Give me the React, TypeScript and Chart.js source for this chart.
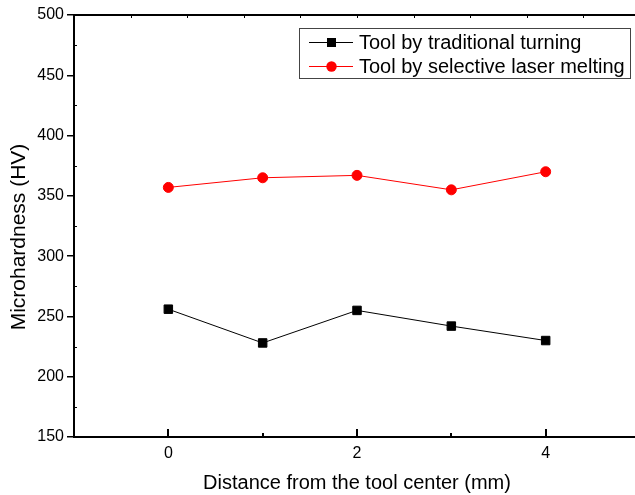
import React, { useEffect, useRef } from 'react';
import { Chart, registerables } from 'chart.js';

Chart.register(...registerables);

// ---- data ----
const distances = [0, 1, 2, 3, 4];
const traditionalTurning = [256, 228, 255, 242, 230];
const laserMelting = [357, 365, 367, 355, 370];
const seriesNames = ['Tool by traditional turning', 'Tool by selective laser melting'];
const xLabelValues = [0, 2, 4];
const xMinorValues = [1, 3];
const yMinorValues = [175, 225, 275, 325, 375, 425, 475];
const xTitle = 'Distance from the tool center (mm)';
const yTitle = 'Microhardness (HV)';

const FONT = '"Liberation Sans", Arial, sans-serif';

export default function App() {
  const ref = useRef<HTMLCanvasElement | null>(null);

  useEffect(() => {
    if (!ref.current) return;
    document.body.style.margin = '0';
    document.body.style.overflow = 'hidden';

    const decor = {
      id: 'decor',
      afterDraw(chart: any) {
        const ctx = chart.ctx as CanvasRenderingContext2D;
        const ca = chart.chartArea;
        const xs = chart.scales.x;
        const ys = chart.scales.y;
        ctx.save();
        ctx.strokeStyle = '#000';
        ctx.lineWidth = 2;
        // top axis line
        ctx.beginPath();
        ctx.moveTo(ca.left - 1, ca.top);
        ctx.lineTo(ca.right, ca.top);
        ctx.stroke();
        // top small ticks (10 divisions)
        ctx.lineWidth = 1;
        for (let k = 1; k < 10; k++) {
          const px = Math.round(xs.getPixelForValue(xs.min + (k * (xs.max - xs.min)) / 10)) + 0.5;
          ctx.beginPath();
          ctx.moveTo(px, ca.top);
          ctx.lineTo(px, ca.top + 3);
          ctx.stroke();
        }
        // x inward ticks
        ctx.lineWidth = 2;
        xLabelValues.forEach((v) => {
          const px = Math.round(xs.getPixelForValue(v));
          ctx.beginPath();
          ctx.moveTo(px, ca.bottom);
          ctx.lineTo(px, ca.bottom - 8);
          ctx.stroke();
        });
        xMinorValues.forEach((v) => {
          const px = Math.round(xs.getPixelForValue(v));
          ctx.beginPath();
          ctx.moveTo(px, ca.bottom);
          ctx.lineTo(px, ca.bottom - 4);
          ctx.stroke();
        });
        // y inward minor ticks
        ctx.lineWidth = 1;
        yMinorValues.forEach((v) => {
          const py = Math.round(ys.getPixelForValue(v)) + 0.5;
          ctx.beginPath();
          ctx.moveTo(ca.left, py);
          ctx.lineTo(ca.left + 3, py);
          ctx.stroke();
        });

        // titles
        ctx.fillStyle = '#000';
        ctx.font = `20px ${FONT}`;
        ctx.textAlign = 'center';
        ctx.textBaseline = 'middle';
        ctx.fillText(xTitle, (ca.left + ca.right) / 2, 483);
        ctx.save();
        ctx.translate(19, 237);
        ctx.rotate(-Math.PI / 2);
        ctx.font = `21px ${FONT}`;
        ctx.fillText(yTitle, 0, 0);
        ctx.restore();

        // legend
        const lx = 299.5, ly = 28.5, lw = 331, lh = 50;
        ctx.lineWidth = 1;
        ctx.strokeStyle = '#444';
        ctx.strokeRect(lx, ly, lw, lh);
        const rows = [
          { y: 42.5, color: '#000', shape: 'rect' },
          { y: 66.5, color: '#ff0000', shape: 'circle' },
        ];
        rows.forEach((r, i) => {
          ctx.strokeStyle = r.color;
          ctx.fillStyle = r.color;
          ctx.lineWidth = 1;
          ctx.beginPath();
          ctx.moveTo(309, r.y);
          ctx.lineTo(353, r.y);
          ctx.stroke();
          if (r.shape === 'rect') {
            ctx.fillRect(331.5 - 4.5, r.y - 4.5, 9, 9);
          } else {
            ctx.beginPath();
            ctx.arc(331.5, r.y, 5.2, 0, Math.PI * 2);
            ctx.fill();
          }
          ctx.fillStyle = '#000';
          ctx.textAlign = 'left';
          ctx.textBaseline = 'middle';
          ctx.font = `20px ${FONT}`;
          ctx.fillText(seriesNames[i], 359, r.y + 1);
        });
        ctx.restore();
      },
    };

    const chart = new Chart(ref.current, {
      type: 'line',
      data: {
        datasets: [
          {
            label: seriesNames[0],
            data: distances.map((d, i) => ({ x: d, y: traditionalTurning[i] })),
            borderColor: '#000',
            backgroundColor: '#000',
            borderWidth: 1,
            pointStyle: 'rect',
            pointRadius: 6,
            pointBorderWidth: 1,
            pointBorderColor: '#000',
            pointBackgroundColor: '#000',
            tension: 0,
          },
          {
            label: seriesNames[1],
            data: distances.map((d, i) => ({ x: d, y: laserMelting[i] })),
            borderColor: '#ff0000',
            backgroundColor: '#ff0000',
            borderWidth: 1,
            pointStyle: 'circle',
            pointRadius: 5,
            pointBorderWidth: 1,
            pointBorderColor: '#ff0000',
            pointBackgroundColor: '#ff0000',
            tension: 0,
          },
        ],
      },
      options: {
        responsive: false,
        animation: false,
        devicePixelRatio: 1,
        layout: { padding: { top: 15, left: 0, right: 0, bottom: 0 } },
        plugins: {
          legend: { display: false },
          tooltip: { enabled: false },
          title: { display: false },
        },
        scales: {
          x: {
            type: 'linear',
            min: -1,
            max: 5,
            ticks: {
              stepSize: 1,
              autoSkip: false,
              maxRotation: 0,
              padding: 7,
              color: '#000',
              font: { family: FONT, size: 16 },
              callback: (v: any) => (xLabelValues.includes(Number(v)) ? String(v) : ''),
            },
            grid: { display: true, drawOnChartArea: false, drawTicks: false },
            border: { display: true, color: '#000', width: 2 },
            afterFit: (s: any) => {
              s.height = 58;
            },
          },
          y: {
            type: 'linear',
            min: 150,
            max: 500,
            ticks: {
              stepSize: 50,
              padding: 3,
              color: '#000',
              font: { family: FONT, size: 16 },
            },
            grid: {
              display: true,
              drawOnChartArea: false,
              drawTicks: true,
              tickLength: 7,
              color: '#000',
              lineWidth: 1.5,
            },
            border: { display: true, color: '#000', width: 2 },
            afterFit: (s: any) => {
              s.width = 74;
            },
          },
        },
      },
      plugins: [decor],
    });

    return () => chart.destroy();
  }, []);

  return (
    <div
      style={{
        position: 'fixed',
        left: 0,
        top: 0,
        width: 635,
        height: 495,
        overflow: 'hidden',
        background: '#fff',
      }}
    >
      <canvas ref={ref} width={647} height={495} style={{ display: 'block' }} />
    </div>
  );
}
